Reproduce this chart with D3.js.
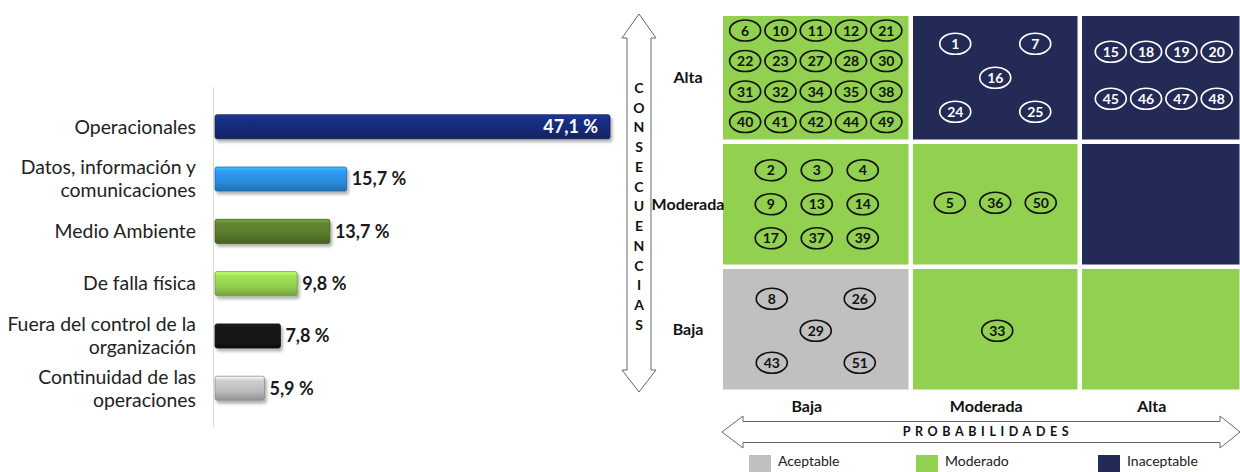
<!DOCTYPE html>
<html>
<head>
<meta charset="utf-8">
<script src="https://cdn.jsdelivr.net/npm/d3@7"></script>
<style>
  body { margin: 0; background: #fff; }
  svg { display: block; font-family: Lato, "Open Sans", sans-serif; }
</style>
</head>
<body>
<svg id="chart" width="1240" height="472"></svg>
<script>
// bar chart data
const categories = ['Operacionales', 'Datos, información y\ncomunicaciones', 'Medio Ambiente',
  'De falla física', 'Fuera del control de la\norganización', 'Continuidad de las\noperaciones'];
const shares = [47.1, 15.7, 13.7, 9.8, 7.8, 5.9];
const barColors = ['#172b78', '#2a8ee0', '#5b7a2c', '#92d050', '#151515', '#bdbdbd'];

// risk matrix data
const probLevels = ['Baja', 'Moderada', 'Alta'];
const consLevels = ['Alta', 'Moderada', 'Baja'];
const zoneNames = ['Aceptable', 'Moderado', 'Inaceptable'];
const zoneColors = ['#c0c0c0', '#92d050', '#232a55'];
// zone per cell [consequence row][probability col]
const cellZones = [
  [1, 2, 2],
  [1, 1, 2],
  [0, 1, 1]
];
// risk ids per cell [row][col], read top-left to bottom-right
const cellRisks = [
  [[6, 10, 11, 12, 21, 22, 23, 27, 28, 30, 31, 32, 34, 35, 38, 40, 41, 42, 44, 49],
   [1, 7, 16, 24, 25],
   [15, 18, 19, 20, 45, 46, 47, 48]],
  [[2, 3, 4, 9, 13, 14, 17, 37, 39], [5, 36, 50], []],
  [[8, 26, 29, 43, 51], [33], []]
];

const svg = d3.select('#chart');
const fmt = d3.formatLocale({ decimal: ',', thousands: '.', grouping: [3], currency: ['', ''] }).format('.1f');

// ---------- bar chart ----------
const x = d3.scaleLinear().domain([0, d3.max(shares)]).range([215, 610]);
const y = d3.scaleBand().domain(categories).range([86.5, 428.5]).padding(0.54);

const defs = svg.append('defs');
barColors.forEach((c, i) => {
  const g = defs.append('linearGradient').attr('id', `bar${i}`)
    .attr('x1', 0).attr('y1', 0).attr('x2', 0).attr('y2', 1);
  const col = d3.color(c);
  g.append('stop').attr('offset', '0%').attr('stop-color', col.brighter(0.9));
  g.append('stop').attr('offset', '18%').attr('stop-color', col.brighter(0.25));
  g.append('stop').attr('offset', '60%').attr('stop-color', c);
  g.append('stop').attr('offset', '100%').attr('stop-color', col.darker(0.7));
});
const shadow = defs.append('filter').attr('id', 'shadow')
  .attr('x', '-5%').attr('y', '-20%').attr('width', '115%').attr('height', '160%');
shadow.append('feDropShadow').attr('dx', 2).attr('dy', 3).attr('stdDeviation', 1.5)
  .attr('flood-color', '#000').attr('flood-opacity', 0.3);

svg.append('line')
  .attr('x1', 213.5).attr('x2', 213.5).attr('y1', 87).attr('y2', 427)
  .attr('stroke', '#d9d9d9').attr('stroke-width', 1);

const bars = svg.append('g').selectAll('g').data(categories).join('g');

bars.append('rect')
  .attr('x', x(0))
  .attr('y', d => y(d))
  .attr('width', (d, i) => x(shares[i]) - x(0))
  .attr('height', y.bandwidth())
  .attr('rx', 2)
  .attr('fill', (d, i) => `url(#bar${i})`)
  .attr('stroke', (d, i) => d3.color(barColors[i]).darker(0.8))
  .attr('stroke-width', 0.8)
  .attr('filter', 'url(#shadow)');

// value labels, first one sits inside the bar
bars.append('text')
  .attr('x', (d, i) => i === 0 ? x(shares[i]) - 12 : x(shares[i]) + 5)
  .attr('y', d => y(d) + y.bandwidth() / 2)
  .attr('dy', '0.35em')
  .attr('text-anchor', (d, i) => i === 0 ? 'end' : 'start')
  .attr('fill', (d, i) => i === 0 ? '#fff' : '#1a1a1a')
  .style('font-size', '18px')
  .style('font-weight', 'bold')
  .text((d, i) => `${fmt(shares[i])} %`);

// category labels
bars.append('text')
  .attr('text-anchor', 'end')
  .attr('fill', '#222')
  .style('font-size', '19.4px')
  .each(function (d) {
    const lines = d.split('\n');
    const cy = y(d) + y.bandwidth() / 2;
    d3.select(this).selectAll('tspan').data(lines).join('tspan')
      .attr('x', 196)
      .attr('y', (l, j) => cy + (j - (lines.length - 1) / 2) * 23)
      .attr('dy', '0.35em')
      .text(l => l);
  });

// ---------- risk matrix ----------
const colEdge = d3.scaleLinear().domain([0, 1, 2, 3]).range([723, 913, 1082, 1244]);
const rowEdge = d3.scaleLinear().domain([0, 1, 2, 3]).range([16, 144, 269, 394]);
const gap = 4.5;

// layout of the ellipses in each cell: grid (cols, dx, dy) or dice
const cellLayout = [
  [{ type: 'grid', cols: 5, dx: 35.3, dy: 30.5, oy: -1.5 }, { type: 'dice', dx: 40, dy: 34 }, { type: 'grid', cols: 4, dx: 35.3, dy: 47, ox: 3, oy: -2.5 }],
  [{ type: 'grid', cols: 3, dx: 46, dy: 34, ox: 1 }, { type: 'grid', cols: 3, dx: 45.5, dy: 0, oy: -1.5 }, null],
  [{ type: 'dice', dx: 44, dy: 32, oy: 1.5 }, { type: 'grid', cols: 1, dx: 0, dy: 0, ox: 2, oy: 1.5 }, null]
];

const dicePts = [[-1, -1], [1, -1], [0, 0], [-1, 1], [1, 1]];

function positions(ids, lay, cx, cy) {
  if (!lay) return [];
  const ox = lay.ox || 0, oy = lay.oy || 0;
  if (lay.type === 'dice') {
    return ids.map((id, k) => ({ id, x: cx + ox + dicePts[k][0] * lay.dx, y: cy + oy + dicePts[k][1] * lay.dy }));
  }
  const rows = Math.ceil(ids.length / lay.cols);
  return ids.map((id, k) => {
    const c = k % lay.cols, r = Math.floor(k / lay.cols);
    return {
      id,
      x: cx + ox + (c - (lay.cols - 1) / 2) * lay.dx,
      y: cy + oy + (r - (rows - 1) / 2) * lay.dy
    };
  });
}

const matrix = svg.append('g');
consLevels.forEach((cons, r) => {
  probLevels.forEach((prob, c) => {
    const zone = cellZones[r][c];
    const x0 = colEdge(c), x1 = colEdge(c + 1) - gap;
    const y0 = rowEdge(r), y1 = rowEdge(r + 1) - gap;
    matrix.append('rect')
      .attr('x', x0).attr('y', y0)
      .attr('width', x1 - x0).attr('height', y1 - y0)
      .attr('fill', zoneColors[zone]);

    const dark = zone === 2;
    const pts = positions(cellRisks[r][c], cellLayout[r][c], (x0 + x1) / 2, (y0 + y1) / 2);
    const g = matrix.append('g').selectAll('g').data(pts).join('g')
      .attr('transform', p => `translate(${p.x},${p.y})`);
    g.append('ellipse')
      .attr('rx', 15.5).attr('ry', 10.5)
      .attr('fill', 'none')
      .attr('stroke', dark ? '#fff' : '#111')
      .attr('stroke-width', 1.7);
    g.append('text')
      .attr('text-anchor', 'middle')
      .attr('dy', '0.36em')
      .attr('fill', dark ? '#fff' : '#111')
      .style('font-size', '14px')
      .style('font-weight', 'bold')
      .text(p => p.id);
  });
});

// row labels
svg.append('g').selectAll('text').data(consLevels).join('text')
  .attr('x', 688)
  .attr('y', (d, i) => (rowEdge(i) + rowEdge(i + 1) - gap) / 2)
  .attr('dy', '0.35em')
  .attr('text-anchor', 'middle')
  .attr('fill', '#111')
  .style('font-size', '16px')
  .style('font-weight', 'bold')
  .text(d => d);

// column labels
svg.append('g').selectAll('text').data(probLevels).join('text')
  .attr('x', (d, i) => (colEdge(i) + colEdge(i + 1) - gap) / 2 - 9)
  .attr('y', 406)
  .attr('dy', '0.35em')
  .attr('text-anchor', 'middle')
  .attr('fill', '#111')
  .style('font-size', '16px')
  .style('font-weight', 'bold')
  .text(d => d);

// vertical double arrow (consecuencias)
const ax = 639, aTop = 14, aBot = 392;
svg.append('path')
  .attr('d', `M${ax},${aTop} L${ax + 17},${aTop + 24} L${ax + 12},${aTop + 24} L${ax + 12},${aBot - 22}
    L${ax + 17},${aBot - 22} L${ax},${aBot} L${ax - 17},${aBot - 22} L${ax - 12},${aBot - 22}
    L${ax - 12},${aTop + 24} L${ax - 17},${aTop + 24} Z`)
  .attr('fill', '#fff').attr('stroke', '#666').attr('stroke-width', 1);

const consWord = 'CONSECUENCIAS'.split('');
svg.append('g').selectAll('text').data(consWord).join('text')
  .attr('x', ax)
  .attr('y', (d, i) => 88 + i * 19.75)
  .attr('dy', '0.35em')
  .attr('text-anchor', 'middle')
  .attr('fill', '#111')
  .style('font-size', '14px')
  .style('font-weight', 'bold')
  .text(d => d);

// horizontal double arrow (probabilidades)
const hy = 432, hL = colEdge(0) - 1, hR = 1240;
svg.append('path')
  .attr('d', `M${hL},${hy} L${hL + 21},${hy - 16} L${hL + 21},${hy - 10.5} L${hR - 20},${hy - 10.5}
    L${hR - 20},${hy - 16} L${hR},${hy} L${hR - 20},${hy + 16} L${hR - 20},${hy + 10.5}
    L${hL + 21},${hy + 10.5} L${hL + 21},${hy + 16} Z`)
  .attr('fill', '#fff').attr('stroke', '#666').attr('stroke-width', 1);

svg.append('text')
  .attr('x', 988).attr('y', hy)
  .attr('dy', '0.35em')
  .attr('text-anchor', 'middle')
  .attr('fill', '#111')
  .style('font-size', '12.5px')
  .style('font-weight', 'bold')
  .style('letter-spacing', '4.6px')
  .text('PROBABILIDADES');

// legend
const legendX = [749, 916, 1098];
const legend = svg.append('g').selectAll('g').data(zoneNames).join('g')
  .attr('transform', (d, i) => `translate(${legendX[i]},455)`);
legend.append('rect').attr('width', 22).attr('height', 17).attr('fill', (d, i) => zoneColors[i]);
legend.append('text')
  .attr('x', 29).attr('y', 6)
  .attr('dy', '0.35em')
  .attr('fill', '#222')
  .style('font-size', '14px')
  .text(d => d);
</script>
</body>
</html>
